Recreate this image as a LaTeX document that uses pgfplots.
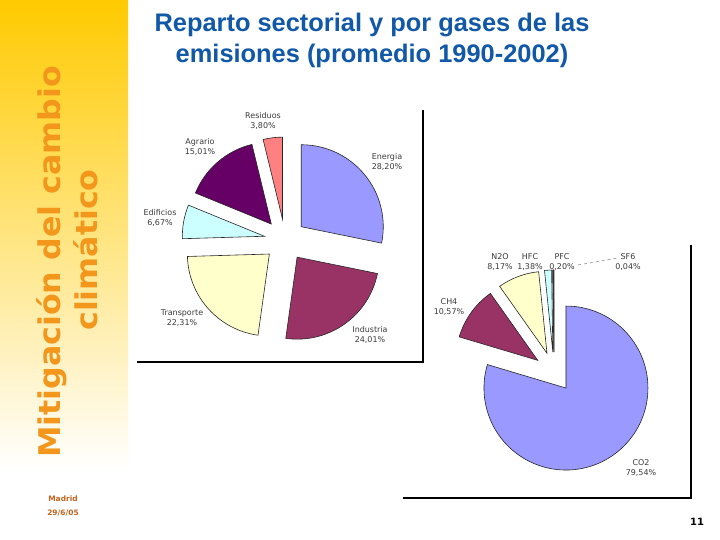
\documentclass[border=0pt]{standalone}
\usepackage{pgfplots}
\pgfplotsset{compat=1.18}
\usepackage{pgfplotstable}
\usepackage{fontspec}
\setmainfont{DejaVu Sans}
\newfontfamily\titlefont{Liberation Sans}
\newfontfamily\sidefont[FakeStretch=1.06]{DejaVu Sans}

\definecolor{sl0}{HTML}{9999FF}
\definecolor{sl1}{HTML}{993366}
\definecolor{sl2}{HTML}{FFFFCC}
\definecolor{sl3}{HTML}{CCFFFF}
\definecolor{sl4}{HTML}{660066}
\definecolor{sl5}{HTML}{FF8080}
\definecolor{titleblue}{RGB}{18,88,168}
\definecolor{sideorange}{RGB}{242,150,28}
\definecolor{bandtop}{RGB}{255,202,0}
\definecolor{datebrown}{RGB}{196,100,30}
\definecolor{labgray}{RGB}{60,60,60}

% sectores (promedio 1990-2002), label position in px
\pgfplotstableread[col sep=comma]{
name,value,lx,ly
Energia,28.20,387,162
Industria,24.01,370,335
Transporte,22.31,182,318
Edificios,6.67,160,218
Agrario,15.01,200,147
Residuos,3.80,263,121
}\sectores

% gases
\pgfplotstableread[col sep=comma]{
name,value,lx,ly
CO2,79.54,641,468
CH4,10.57,449,307
N2O,8.17,500,262
HFC,1.38,530,262
PFC,0.20,562,262
SF6,0.04,628,262
}\gases

% start/end/mid angles, clockwise from 12 o'clock
\newcommand{\pieangles}[2]{%
  \pgfplotstablegetrowsof{#1}\pgfmathtruncatemacro\lastrow{\pgfplotsretval-1}%
  \def\total{0}%
  \pgfplotsforeachungrouped \i in {0,...,\lastrow}{%
    \pgfplotstablegetelem{\i}{value}\of{#1}%
    \pgfmathsetmacro\total{\total+\pgfplotsretval}}%
  \def\cum{90}%
  \pgfplotsforeachungrouped \i in {0,...,\lastrow}{%
    \pgfplotstablegetelem{\i}{value}\of{#1}%
    \pgfmathsetmacro\angnext{\cum-(\pgfplotsretval/\total)*360}%
    \pgfmathsetmacro\angmid{(\cum+\angnext)/2}%
    \expandafter\xdef\csname #2s\i\endcsname{\cum}%
    \expandafter\xdef\csname #2e\i\endcsname{\angnext}%
    \expandafter\xdef\csname #2m\i\endcsname{\angmid}%
    \let\cum\angnext}%
}
\pieangles{\sectores}{A}
\pieangles{\gases}{B}

% #1 pie, #2 slice, #3 explode, #4 radius
\newcommand{\pieslice}[4]{%
  \filldraw[fill=sl#2, draw=black!85, line width=0.6pt]
    ({#3*cos(\csname #1m#2\endcsname)+#4*cos(\csname #1s#2\endcsname)},
     {#3*sin(\csname #1m#2\endcsname)+#4*sin(\csname #1s#2\endcsname)})
    arc[start angle=\csname #1s#2\endcsname, end angle=\csname #1e#2\endcsname, radius=#4bp]
    -- ({#3*cos(\csname #1m#2\endcsname)},{#3*sin(\csname #1m#2\endcsname)}) -- cycle;}

\newcommand{\pielabels}[1]{%
  \pgfplotsforeachungrouped \i in {0,...,5}{%
    \pgfplotstablegetelem{\i}{name}\of{#1}\let\nm\pgfplotsretval
    \pgfplotstablegetelem{\i}{value}\of{#1}\let\vl\pgfplotsretval
    \pgfplotstablegetelem{\i}{lx}\of{#1}\let\lx\pgfplotsretval
    \pgfplotstablegetelem{\i}{ly}\of{#1}\let\ly\pgfplotsretval
    \node[lab] at (\lx,\ly) {\nm\\\pgfmathprintnumber[fixed,fixed zerofill,precision=2,use comma,assume math mode=true]{\vl}\%};}}

\begin{document}
\begin{tikzpicture}
\begin{scope}[x=1bp,y=-1bp]
\path[use as bounding box, fill=white] (0,0) rectangle (720,540);
\shade[top color=bandtop, bottom color=white] (0,0) rectangle (128,470);

\node[rotate=90, anchor=base, text=sideorange, font=\sidefont\bfseries\fontsize{30}{34}\selectfont] at (60,262) {Mitigación del cambio};
\node[rotate=90, anchor=base, text=sideorange, font=\sidefont\bfseries\fontsize{30}{34}\selectfont] at (97,250) {climático};
\node[text=datebrown, font=\bfseries\fontsize{7.5}{14}\selectfont, align=center] at (63,506) {Madrid\\29/6/05};

\node[anchor=base, text=titleblue, font=\titlefont\bfseries\fontsize{25.5}{31}\selectfont] at (372,32) {Reparto sectorial y por gases de las};
\node[anchor=base, text=titleblue, font=\titlefont\bfseries\fontsize{25.5}{31}\selectfont] at (372,63) {emisiones (promedio 1990-2002)};

\node[font=\bfseries\fontsize{10}{12}\selectfont] at (697,522) {11};

\draw[line width=1.5pt] (423,110) -- (423,362) -- (137,362);
\draw[line width=1.5pt] (691,245) -- (691,498) -- (403,498);
\draw[dashed, black!50, line width=0.5pt] (578,265) -- (618,258);
\end{scope}

\begin{axis}[at={(285bp,-240bp)}, anchor=origin, x=1bp, y=1bp,
  xmin=-110, xmax=110, ymin=-110, ymax=110, hide axis, clip=false]
\pgfplotsinvokeforeach{0,...,5}{\pieslice{A}{#1}{21}{82}}
\end{axis}

\begin{axis}[at={(554bp,-372bp)}, anchor=origin, x=1bp, y=1bp,
  xmin=-110, xmax=110, ymin=-110, ymax=110, hide axis, clip=false]
\pgfplotsinvokeforeach{0,...,5}{\pieslice{B}{#1}{20}{82}}
\end{axis}

\begin{scope}[x=1bp,y=-1bp, lab/.style={align=center, text=labgray, font=\fontsize{8}{10}\selectfont, inner sep=1pt}]
\pielabels{\sectores}
\pielabels{\gases}
\end{scope}
\end{tikzpicture}
\end{document}
